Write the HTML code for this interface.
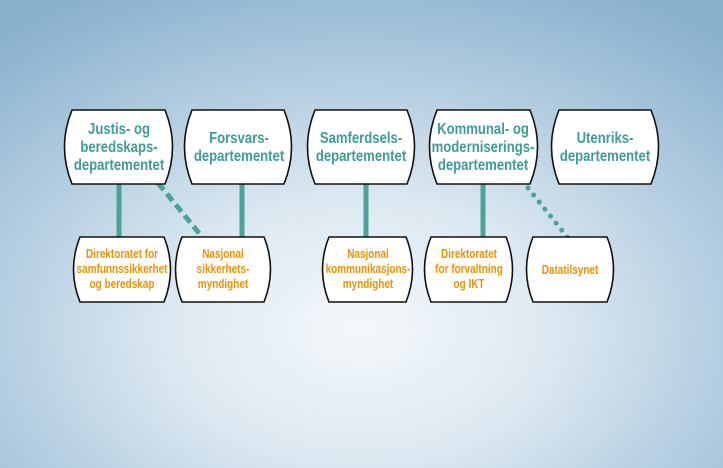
<!DOCTYPE html>
<html><head><meta charset="utf-8"><style>
html,body{margin:0;padding:0;}
body{width:723px;height:468px;overflow:hidden;background:radial-gradient(ellipse 560px 380px at 360px 330px,#f4f8fb 0%,#dce8f1 35%,#b0cbdf 68%,#8ab1ce 100%);}
svg{position:absolute;left:0;top:0;}
text{font-family:"Liberation Sans",sans-serif;font-weight:bold;text-anchor:middle;}
.t{fill:#3f9c95;font-size:16px;}
.o{fill:#f29100;font-size:12.5px;}
.b{fill:#fff;stroke:#111;stroke-width:1.6;}
</style></head><body>
<svg width="723" height="468" viewBox="0 0 723 468">
<g stroke="#4aa39a" stroke-width="5" fill="none">
<line x1="119" y1="184" x2="119" y2="238"/>
<line x1="242" y1="184" x2="242" y2="238"/>
<line x1="366" y1="184" x2="366" y2="238"/>
<line x1="483" y1="184" x2="483" y2="238"/>
<line x1="158" y1="183" x2="203" y2="238" stroke-dasharray="9,5"/>
<line x1="528" y1="188" x2="568" y2="238" stroke-dasharray="0,9" stroke-linecap="round" stroke-width="5"/>
</g>
<g class="b">
<path d="M72,110 L165,110 Q180,147 165,184 L72,184 Q57,147 72,110Z"/>
<path d="M192,110 L284,110 Q299,147 284,184 L192,184 Q177,147 192,110Z"/>
<path d="M315,110 L407,110 Q422,147 407,184 L315,184 Q300,147 315,110Z"/>
<path d="M437,110 L530,110 Q545,147 530,184 L437,184 Q422,147 437,110Z"/>
<path d="M559,110 L651,110 Q666,147 651,184 L559,184 Q544,147 559,110Z"/>
<path d="M80,237 L164,237 Q177,269.5 164,302 L80,302 Q67,269.5 80,237Z"/>
<path d="M182,237 L264,237 Q277,269.5 264,302 L182,302 Q169,269.5 182,237Z"/>
<path d="M329,237 L406,237 Q419,269.5 406,302 L329,302 Q316,269.5 329,237Z"/>
<path d="M431,237 L506,237 Q519,269.5 506,302 L431,302 Q418,269.5 431,237Z"/>
<path d="M533,237 L607,237 Q620,269.5 607,302 L533,302 Q520,269.5 533,237Z"/>
</g>
<g class="t">
<g transform="translate(119 0) scale(0.82 1)"><text x="0" y="134">Justis- og</text><text x="0" y="152">beredskaps-</text><text x="0" y="170">departementet</text></g>
<g transform="translate(239 0) scale(0.82 1)"><text x="0" y="143">Forsvars-</text><text x="0" y="161">departementet</text></g>
<g transform="translate(361 0) scale(0.82 1)"><text x="0" y="143">Samferdsels-</text><text x="0" y="161">departementet</text></g>
<g transform="translate(483 0) scale(0.82 1)"><text x="0" y="134">Kommunal- og</text><text x="0" y="152">moderniserings-</text><text x="0" y="170">departementet</text></g>
<g transform="translate(605 0) scale(0.82 1)"><text x="0" y="143">Utenriks-</text><text x="0" y="161">departementet</text></g>
</g>
<g class="o">
<g transform="translate(122 0) scale(0.8 1)"><text x="0" y="258">Direktoratet for</text><text x="0" y="273">samfunnssikkerhet</text><text x="0" y="288">og beredskap</text></g>
<g transform="translate(223 0) scale(0.8 1)"><text x="0" y="258">Nasjonal</text><text x="0" y="273">sikkerhets-</text><text x="0" y="288">myndighet</text></g>
<g transform="translate(368 0) scale(0.8 1)"><text x="0" y="258">Nasjonal</text><text x="0" y="273">kommunikasjons-</text><text x="0" y="288">myndighet</text></g>
<g transform="translate(469 0) scale(0.8 1)"><text x="0" y="258">Direktoratet</text><text x="0" y="273">for forvaltning</text><text x="0" y="288">og IKT</text></g>
<g transform="translate(570 0) scale(0.8 1)"><text x="0" y="274">Datatilsynet</text></g>
</g>
</svg>
</body></html>
